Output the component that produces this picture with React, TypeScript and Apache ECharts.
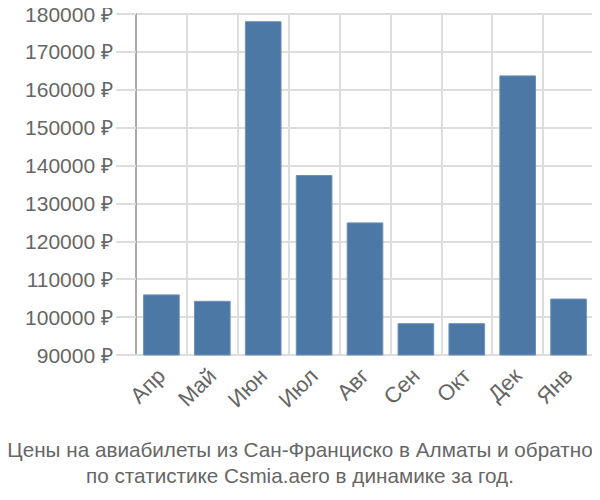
import React, { useEffect, useRef } from "react";
import * as echarts from "echarts";

const months = ["Апр", "Май", "Июн", "Июл", "Авг", "Сен", "Окт", "Дек", "Янв"];
const prices = [106000, 104300, 178100, 137500, 125000, 98400, 98400, 163800, 104900];
const titleLines = [
  "Цены на авиабилеты из Сан-Франциско в Алматы и обратно",
  "по статистике Csmia.aero в динамике за год.",
];

export default function App() {
  const ref = useRef<HTMLDivElement>(null);
  useEffect(() => {
    const chart = echarts.init(ref.current!, null, { renderer: "svg" });
    const ff = "'Liberation Sans', Arial, sans-serif";
    chart.setOption({
      animation: false,
      textStyle: { fontFamily: ff },
      title: {
        text: titleLines.join("\n"),
        left: "center",
        top: 431,
        textStyle: {
          fontSize: 20.7,
          lineHeight: 26,
          fontWeight: "normal",
          color: "#666",
          fontFamily: ff,
        },
      },
      grid: { left: 136, right: 6, top: 14, bottom: 145, containLabel: false },
      xAxis: {
        type: "category",
        data: months,
        axisLine: { lineStyle: { color: "#ddd", width: 2 } },
        axisTick: { length: 20, lineStyle: { color: "#ddd", width: 2 } },
        splitLine: { show: true, lineStyle: { color: "#ddd", width: 2 } },
        axisLabel: { rotate: 45, fontSize: 22, color: "#666", margin: 17, fontFamily: ff },
      },
      yAxis: {
        type: "value",
        min: 90000,
        max: 180000,
        interval: 10000,
        axisLine: { show: true, lineStyle: { color: "#aaa", width: 2 } },
        axisTick: { show: true, length: 20, lineStyle: { color: "#ddd", width: 2 } },
        splitLine: { lineStyle: { color: "#ddd", width: 2 } },
        axisLabel: {
          fontSize: 21,
          color: "#666",
          margin: 23,
          fontFamily: ff,
          formatter: (v: number) => v + " ₽",
        },
      },
      series: [
        {
          type: "bar",
          data: prices,
          barCategoryGap: "28%",
          itemStyle: { color: "#4c78a6", borderColor: "#6d8fb8", borderWidth: 1 },
        },
      ],
    });
    return () => chart.dispose();
  }, []);
  return <div ref={ref} style={{ width: 600, height: 500, margin: -8 }} />;
}
